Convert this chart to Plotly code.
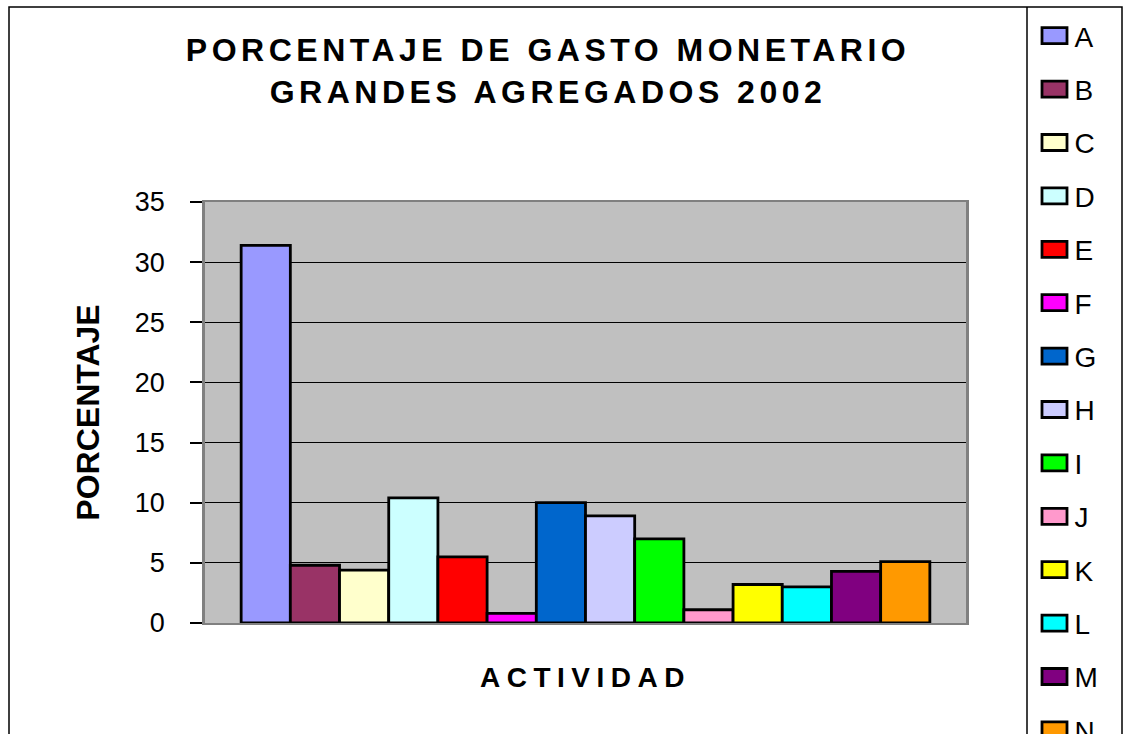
import plotly.graph_objects as go

categories = ["A", "B", "C", "D", "E", "F", "G", "H", "I", "J", "K", "L", "M", "N"]
values = [31.4, 4.8, 4.4, 10.4, 5.5, 0.8, 10.0, 8.9, 7.0, 1.1, 3.2, 3.0, 4.3, 5.1]
colors = ["#9999FF", "#993366", "#FFFFCC", "#CCFFFF", "#FF0000", "#FF00FF", "#0066CC",
          "#CCCCFF", "#00FF00", "#FF99CC", "#FFFF00", "#00FFFF", "#800080", "#FF9900"]
group_label = ["2002"]

FONT = "Arial, Liberation Sans, sans-serif"

fig = go.Figure()
for name, val, col in zip(categories, values, colors):
    fig.add_trace(go.Bar(
        x=group_label, y=[val], name=name, legendgroup=name,
        marker=dict(color=col, line=dict(color="black", width=2.8)),
    ))

W, H = 1126, 734
L, R, T, B = 205, 966, 202, 623
pw, ph = R - L, B - T

def px_x(x):
    return (x - L) / pw

def px_y(y):
    return (B - y) / ph

LEG_PAD = 11

fig.update_layout(
    width=W, height=H,
    margin=dict(l=L, r=W - R, t=T, b=H - B, pad=0),
    paper_bgcolor="white",
    plot_bgcolor="#C0C0C0",
    barmode="group", bargap=0.095, bargroupgap=0,
    font=dict(family=FONT, color="black"),
    title=dict(
        text="PORCENTAJE DE GASTO MONETARIO<br>GRANDES AGREGADOS 2002",
        x=548 / W, xanchor="center",
        y=1 - 61 / H, yanchor="top",
        font=dict(family=FONT, size=32, weight=700, color="black"),
    ),
    xaxis=dict(
        showticklabels=False, ticks="", automargin=False,
        showline=True, linecolor="#808080", linewidth=2, mirror=True,
        showgrid=False, zeroline=False,
        title=dict(text="ACTIVIDAD", standoff=43,
                   font=dict(family=FONT, size=28, weight=700)),
    ),
    yaxis=dict(
        range=[0, 35], dtick=5, tick0=0, automargin=False,
        ticks="outside", ticklen=12, tickwidth=1.5, tickcolor="black",
        ticklabelstandoff=20,
        tickfont=dict(family=FONT, size=27),
        showline=True, linecolor="#808080", linewidth=2.5, mirror=True,
        showgrid=True, gridcolor="black", gridwidth=1,
        zeroline=False,
        title=dict(text="PORCENTAJE", standoff=26,
                   font=dict(family=FONT, size=32, weight=700)),
    ),
    legend=dict(
        xref="container", yref="container",
        x=(1034.5 - LEG_PAD) / W, xanchor="left",
        y=1, yanchor="top",
        font=dict(family=FONT, size=28),
        tracegroupgap=14, maxheight=3000,
        bgcolor="rgba(0,0,0,0)", borderwidth=LEG_PAD, bordercolor="rgba(0,0,0,0)",
    ),
    showlegend=True,
)

# chart frame and legend separator
fig.add_shape(type="rect", xref="paper", yref="paper",
              x0=px_x(9), x1=px_x(1122), y0=px_y(760), y1=px_y(7),
              line=dict(color="black", width=1.5), fillcolor="rgba(0,0,0,0)", layer="above")
fig.add_shape(type="line", xref="paper", yref="paper",
              x0=px_x(1027), x1=px_x(1027), y0=px_y(760), y1=px_y(7),
              line=dict(color="black", width=1.5))

post = """
document.body.style.margin = '0';
var gd = document.getElementById('{plot_id}');
gd.querySelectorAll('.gtitle').forEach(function(e){ e.style.letterSpacing = '4.5px'; });
gd.querySelectorAll('.xtitle').forEach(function(e){ e.style.letterSpacing = '6.5px'; });
gd.querySelectorAll('.legendpoints path').forEach(function(p){
  p.setAttribute('d', 'M12.5,8H-12.5V-8H12.5Z');
});
"""

fig.write_html("out.html", post_script=post, config={"displayModeBar": False})
